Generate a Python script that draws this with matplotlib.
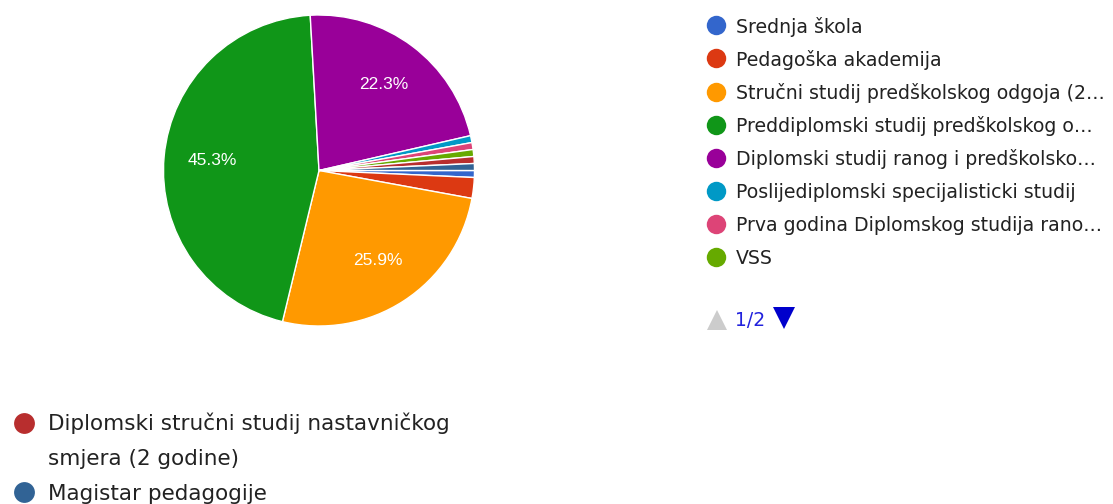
import matplotlib.pyplot as plt

labels = ['Srednja škola', 'Pedagoška akademija',
          'Stručni studij predškolskog odgoja (2…',
          'Preddiplomski studij predškolskog o…',
          'Diplomski studij ranog i predškolsko…',
          'Poslijediplomski specijalisticki studij',
          'Prva godina Diplomskog studija rano…', 'VSS',
          'Diplomski stručni studij nastavničkog\nsmjera (2 godine)',
          'Magistar pedagogije']
counts = [1, 3, 36, 63, 31, 1, 1, 1, 1, 1]
colors = ['#3366cc', '#dc3912', '#ff9900', '#109618', '#990099',
          '#0099c6', '#dd4477', '#66aa00', '#b82e2e', '#316395']
page_label = '1/2'

plt.rcParams['font.family'] = ['DejaVu Sans']

W, H = 1113, 504
fig = plt.figure(figsize=(W / 100, H / 100), dpi=100)

# pie
r = 155.5
cx, cy = 319, 170.5
ax = fig.add_axes([(cx - r) / W, 1 - (cy + r) / H, 2 * r / W, 2 * r / H])
ax.pie(counts, colors=colors, startangle=0, counterclock=False,
       autopct=lambda p: '%.1f%%' % p if p > 5 else '', pctdistance=0.69,
       wedgeprops=dict(edgecolor='white', linewidth=1),
       textprops=dict(color='white', fontsize=12.5,
                      family=['Liberation Sans', 'DejaVu Sans']))
ax.set_xlim(-1, 1)
ax.set_ylim(-1, 1)
ax.set_aspect('auto')

# legends drawn in pixel coordinates
lg = fig.add_axes([0, 0, 1, 1], zorder=5)
lg.set_xlim(0, W)
lg.set_ylim(H, 0)
lg.axis('off')
lg.patch.set_visible(False)

txt = '#222222'
for i in range(8):
    y = 25.3 + i * 33.1
    lg.plot(716, y, 'o', color=colors[i], markersize=14, markeredgewidth=0)
    lg.text(736, y + 7.3, labels[i], fontsize=13.6, color=txt, va='baseline', ha='left')

# pagination
lg.plot(717, 320, '^', color='#cccccc', markersize=15, markeredgewidth=0)
lg.text(735, 326, page_label, fontsize=13.5, color='#2222dd', va='baseline', ha='left')
lg.plot(784, 318, 'v', color='#0000cc', markersize=16, markeredgewidth=0)

# second page items (bottom left)
first, second = labels[8].split('\n')
lg.plot(24, 423, 'o', color=colors[8], markersize=15, markeredgewidth=0)
lg.text(48, 430, first, fontsize=15.5, color=txt, va='baseline')
lg.text(48, 465, second, fontsize=15.5, color=txt, va='baseline')
lg.plot(24, 492, 'o', color=colors[9], markersize=15, markeredgewidth=0)
lg.text(48, 500, labels[9], fontsize=15.5, color=txt, va='baseline')

fig.savefig('out.png', dpi=100)
